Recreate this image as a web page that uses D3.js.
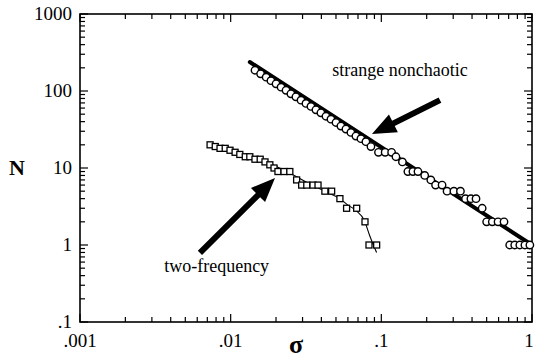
<!DOCTYPE html>
<html><head><meta charset="utf-8">
<script src="https://cdn.jsdelivr.net/npm/d3@7"></script>
<style>body{margin:0;background:#fff}svg{display:block}</style>
</head><body>
<svg id="chart" width="535" height="360"></svg>
<script>
// ---- data ----
const xTickValues = [0.001, 0.01, 0.1, 1];
const xTickLabels = [".001", ".01", ".1", "1"];
const yTickValues = [0.1, 1, 10, 100, 1000];
const yTickLabels = [".1", "1", "10", "100", "1000"];

const strangeSigma = [0.0145,0.0158,0.0172,0.0185,0.0200,0.0216,0.0233,0.0251,0.0271,0.0293,0.0316,0.0341,0.0368,0.0397,0.0429,0.0463,0.0500,0.0539,0.0582,0.0628,0.0678,0.0732,0.0790,0.0853,0.0957,0.106,0.117,0.125,0.138,0.150,0.162,0.175,0.194,0.213,0.229,0.253,0.273,0.303,0.335,0.362,0.393,0.425,0.467,0.500,0.545,0.595,0.652,0.711,0.768,0.830,0.897,0.968];
const strangeN = [186,167,151,136,124,112,102,92,84,76,69,63,57,52,47,43,39,35,32,29,26,24,22,19,16,16,16,14,12,9,9,9,8,7,6,6,5,5,5,4,4,4,3,2,2,2,2,1,1,1,1,1];
const strangeFitSigma = [0.0134, 1];
const strangeFitN = [238, 1];

const twoFreqSigma = [0.0073,0.0079,0.0085,0.0092,0.0099,0.0107,0.0115,0.0125,0.0134,0.0145,0.0157,0.0169,0.0182,0.0194,0.0206,0.0226,0.0247,0.0274,0.0296,0.0320,0.0352,0.0380,0.0422,0.0468,0.0531,0.0588,0.0686,0.0779,0.0828,0.0931];
const twoFreqN = [20,19,18,18,17,16,15,14,14,13,13,12,11,10,9,9,9,7,6,6,6,6,5,5,4,3,3,2,1,1];
const twoFreqCurveSigma = [0.0073,0.010,0.0135,0.018,0.022,0.027,0.033,0.042,0.053,0.060,0.068,0.077,0.084,0.093];
const twoFreqCurveN = [20,17,14,11.5,9.6,7.8,6.3,5.0,4.0,3.3,2.8,2.1,1.3,0.8];

// annotations: [tailSigma, tailN, tipSigma, tipN]
const arrowStrange = [0.245, 76, 0.0866, 27.6];
const arrowTwoFreq = [0.00625, 0.79, 0.0197, 7.4];
const labelStrange = {text: "strange nonchaotic", sigma: 0.0473, N: 158};
const labelTwoFreq = {text: "two-frequency", sigma: 0.00362, N: 0.44};

// ---- layout ----
const svg = d3.select("#chart");
const L = 80, R = 532, T = 14, B = 322;
const x = d3.scaleLog().domain([0.001, 1]).range([L, R]);
const y = d3.scaleLog().domain([0.1, 1000]).range([B, T]);
const serif = "'Liberation Serif','Times New Roman',serif";

function minors(domain) {
  const out = [];
  for (let e = Math.log10(domain[0]); e < Math.log10(domain[1]); e++)
    for (let k = 2; k <= 9; k++) out.push(k * Math.pow(10, e));
  return out;
}
const xMinor = minors([0.001, 1]);
const yMinor = minors([0.1, 1000]);

const g = svg.append("g").attr("stroke", "#000").attr("fill", "none");
g.append("rect").attr("x", L).attr("y", T).attr("width", R - L).attr("height", B - T)
  .attr("stroke-width", 1.6);

function ticks(vals, len) {
  vals.forEach(v => {
    const px = x(v);
    g.append("line").attr("x1", px).attr("x2", px).attr("y1", B).attr("y2", B - len).attr("stroke-width", 1.2);
    g.append("line").attr("x1", px).attr("x2", px).attr("y1", T).attr("y2", T + len).attr("stroke-width", 1.2);
  });
}
function yticks(vals, len) {
  vals.forEach(v => {
    const py = y(v);
    g.append("line").attr("x1", L).attr("x2", L + len).attr("y1", py).attr("y2", py).attr("stroke-width", 1.2);
    g.append("line").attr("x1", R).attr("x2", R - len).attr("y1", py).attr("y2", py).attr("stroke-width", 1.2);
  });
}
ticks(xMinor, 5); ticks(xTickValues, 8);
yticks(yMinor, 5); yticks(yTickValues, 8);

svg.selectAll(".xl").data(xTickValues).enter().append("text")
  .attr("x", d => Math.min(x(d), 529)).attr("y", 347).attr("text-anchor", "middle")
  .attr("font-family", serif).attr("font-size", 19)
  .text((d, i) => xTickLabels[i]);
svg.selectAll(".yl").data(yTickValues).enter().append("text")
  .attr("x", 72).attr("y", d => y(d) + 6).attr("text-anchor", "end")
  .attr("font-family", serif).attr("font-size", 19)
  .text((d, i) => yTickLabels[i]);

svg.append("text").attr("x", 17).attr("y", y(10) + 7).attr("text-anchor", "middle")
  .attr("font-family", serif).attr("font-weight", "bold").attr("font-size", 22).text("N");
svg.append("text").attr("x", (L + R) / 2 - 10).attr("y", 353).attr("text-anchor", "middle")
  .attr("font-family", serif).attr("font-weight", "bold").attr("font-size", 26).text("σ");

const fitData = strangeFitSigma.map((s, i) => [s, strangeFitN[i]]);
svg.append("path").datum(fitData)
  .attr("d", d3.line().x(d => x(d[0])).y(d => y(d[1])))
  .attr("stroke", "#000").attr("stroke-width", 4).attr("stroke-linecap", "round").attr("fill", "none");

svg.selectAll(".c").data(strangeSigma.map((s, i) => [s, strangeN[i]])).enter().append("circle")
  .attr("cx", d => x(d[0])).attr("cy", d => y(d[1])).attr("r", 3.7)
  .attr("fill", "#fff").attr("stroke", "#000").attr("stroke-width", 1.4);

const curveData = twoFreqCurveSigma.map((s, i) => [s, twoFreqCurveN[i]]);
svg.append("path").datum(curveData)
  .attr("d", d3.line().x(d => x(d[0])).y(d => y(d[1])).curve(d3.curveMonotoneX))
  .attr("stroke", "#000").attr("stroke-width", 1.1).attr("fill", "none");

const sq = 6;
svg.selectAll(".s").data(twoFreqSigma.map((s, i) => [s, twoFreqN[i]])).enter().append("rect")
  .attr("x", d => x(d[0]) - sq / 2).attr("y", d => y(d[1]) - sq / 2)
  .attr("width", sq).attr("height", sq)
  .attr("fill", "#fff").attr("stroke", "#000").attr("stroke-width", 1.3);

function arrow(a) {
  const x0 = x(a[0]), y0 = y(a[1]), x1 = x(a[2]), y1 = y(a[3]);
  const dx = x1 - x0, dy = y1 - y0, len = Math.hypot(dx, dy);
  const ux = dx / len, uy = dy / len, nx = -uy, ny = ux;
  const hl = 24, hw = 10, sw = 3;
  const bx = x1 - ux * hl, by = y1 - uy * hl;
  const pts = [
    [x0 + nx * sw, y0 + ny * sw], [bx + nx * sw, by + ny * sw], [bx + nx * hw, by + ny * hw],
    [x1, y1], [bx - nx * hw, by - ny * hw], [bx - nx * sw, by - ny * sw], [x0 - nx * sw, y0 - ny * sw]
  ];
  svg.append("polygon").attr("points", pts.map(p => p.join(",")).join(" ")).attr("fill", "#000");
}
arrow(arrowStrange);
arrow(arrowTwoFreq);

[labelStrange, labelTwoFreq].forEach(l => {
  svg.append("text").attr("x", x(l.sigma)).attr("y", y(l.N))
    .attr("font-family", serif).attr("font-size", 18).text(l.text);
});
</script>
</body></html>
